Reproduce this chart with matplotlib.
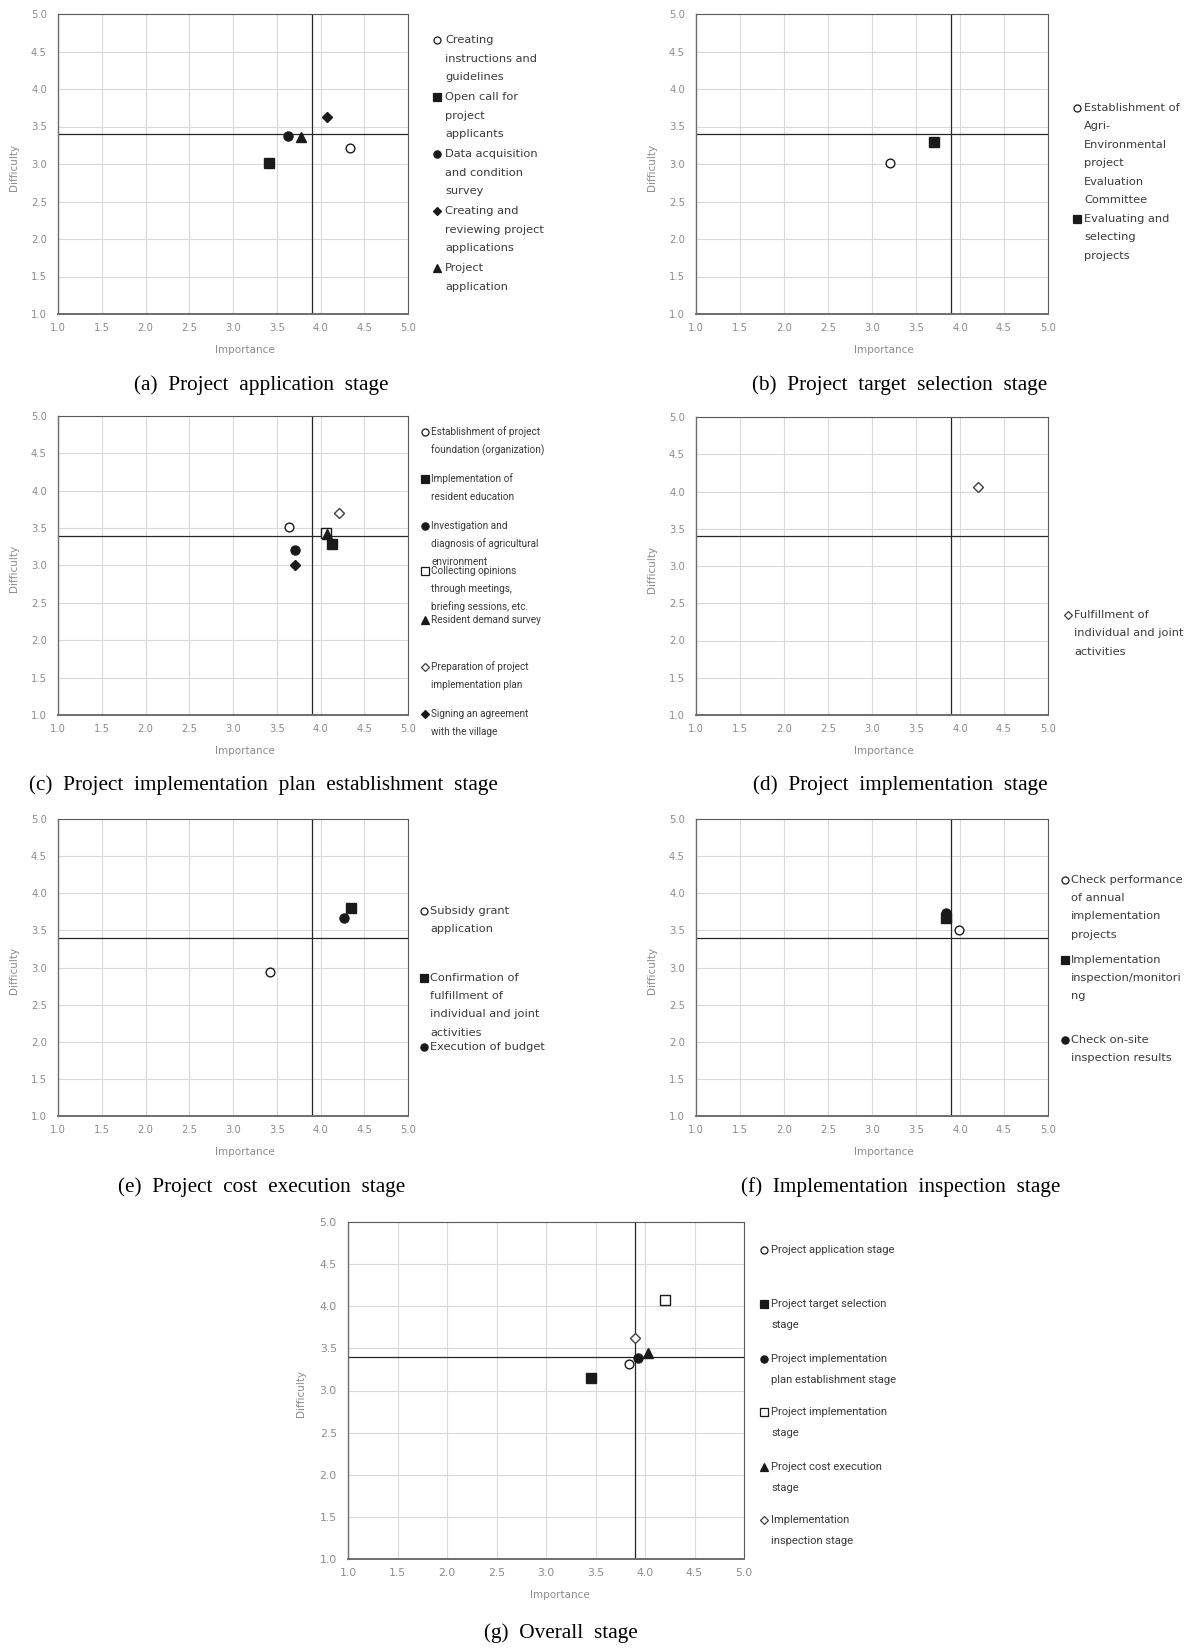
import matplotlib
matplotlib.use("Agg")
import matplotlib.pyplot as plt
from matplotlib.lines import Line2D

# ---------------- data ----------------
MEAN_IMPORTANCE = 3.90
MEAN_DIFFICULTY = 3.40

a_labels = ["Creating\ninstructions and\nguidelines",
            "Open call for\nproject\napplicants",
            "Data acquisition\nand condition\nsurvey",
            "Creating and\nreviewing project\napplications",
            "Project\napplication"]
a_importance = [4.34, 3.41, 3.63, 4.07, 3.78]
a_difficulty = [3.21, 3.01, 3.37, 3.63, 3.36]

b_labels = ["Establishment of\nAgri-\nEnvironmental\nproject\nEvaluation\nCommittee",
            "Evaluating and\nselecting\nprojects"]
b_importance = [3.20, 3.71]
b_difficulty = [3.01, 3.29]

c_labels = ["Establishment of project\nfoundation (organization)",
            "Implementation of\nresident education",
            "Investigation and\ndiagnosis of agricultural\nenvironment",
            "Collecting opinions\nthrough meetings,\nbriefing sessions, etc.",
            "Resident demand survey",
            "Preparation of project\nimplementation plan",
            "Signing an agreement\nwith the village"]
c_importance = [3.64, 4.13, 3.71, 4.06, 4.07, 4.21, 3.71]
c_difficulty = [3.51, 3.29, 3.21, 3.43, 3.42, 3.70, 3.00]

d_labels = ["Fulfillment of\nindividual and joint\nactivities"]
d_importance = [4.21]
d_difficulty = [4.06]

e_labels = ["Subsidy grant\napplication",
            "Confirmation of\nfulfillment of\nindividual and joint\nactivities",
            "Execution of budget"]
e_importance = [3.42, 4.35, 4.27]
e_difficulty = [2.94, 3.80, 3.66]

f_labels = ["Check performance\nof annual\nimplementation\nprojects",
            "Implementation\ninspection/monitori\nng",
            "Check on-site\ninspection results"]
f_importance = [3.99, 3.84, 3.84]
f_difficulty = [3.51, 3.67, 3.73]

g_labels = ["Project application stage",
            "Project target selection\nstage",
            "Project implementation\nplan establishment stage",
            "Project implementation\nstage",
            "Project cost execution\nstage",
            "Implementation\ninspection stage"]
g_importance = [3.84, 3.45, 3.93, 4.20, 4.03, 3.90]
g_difficulty = [3.32, 3.15, 3.38, 4.08, 3.45, 3.62]

tick_values = [1.0, 1.5, 2.0, 2.5, 3.0, 3.5, 4.0, 4.5, 5.0]
tick_labels = ["1.0", "1.5", "2.0", "2.5", "3.0", "3.5", "4.0", "4.5", "5.0"]

captions = ["(a)  Project  application  stage",
            "(b)  Project  target  selection  stage",
            "(c)  Project  implementation  plan  establishment  stage",
            "(d)  Project  implementation  stage",
            "(e)  Project  cost  execution  stage",
            "(f)  Implementation  inspection  stage",
            "(g)  Overall  stage"]

# ---------------- styles ----------------
DARK = "#1a1a1a"
STY = {
    "oc": dict(marker="o", mfc="white", mec=DARK),
    "fs": dict(marker="s", mfc=DARK, mec=DARK),
    "fc": dict(marker="o", mfc=DARK, mec=DARK),
    "fd": dict(marker="D", mfc=DARK, mec=DARK),
    "ft": dict(marker="^", mfc=DARK, mec=DARK),
    "os": dict(marker="s", mfc="white", mec=DARK),
    "od": dict(marker="D", mfc="white", mec="#404040"),
}
MSIZE = {"oc": 6.3, "fs": 6.8, "fc": 6.5, "fd": 5.0, "ft": 6.5, "os": 6.8, "od": 5.0}

W, H = 1190, 1648
fig = plt.figure(figsize=(W / 100, H / 100), dpi=100)


def add_panel(box, imp, dif, labels, styles, leg, caption, cap_xy,
              tick_fs=7.2, xl_off=12, yl_off=44):
    l, t, r, b = box
    ax = fig.add_axes([l / W, 1 - b / H, (r - l) / W, (b - t) / H])
    ax.set_xlim(1, 5)
    ax.set_ylim(1, 5)
    ax.set_xticks(tick_values)
    ax.set_yticks(tick_values)
    ax.set_xticklabels(tick_labels)
    ax.set_yticklabels(tick_labels)
    ax.tick_params(length=0, labelsize=tick_fs, labelcolor="#8c8c8c")
    ax.tick_params(axis="x", pad=6.5)
    ax.tick_params(axis="y", pad=8)
    ax.grid(True, color="#d9d9d9", lw=0.8)
    ax.set_axisbelow(True)
    for s in ax.spines.values():
        s.set_color("#595959")
        s.set_linewidth(0.8)
    ax.spines["bottom"].set_color("#6e6e6e")
    ax.spines["bottom"].set_linewidth(1.4)
    ax.spines["left"].set_color("#6e6e6e")
    ax.spines["left"].set_linewidth(1.0)
    ax.axvline(MEAN_IMPORTANCE, color="#262626", lw=0.9, zorder=2)
    ax.axhline(MEAN_DIFFICULTY, color="#262626", lw=0.9, zorder=2)
    for x, y, st in zip(imp, dif, styles):
        ax.plot([x], [y], ls="none", ms=MSIZE[st], mew=1.0, zorder=3, **STY[st])
    wpx, hpx = r - l, b - t
    ax.set_xlabel("Importance", fontsize=7.5, color="#8c8c8c")
    ax.set_ylabel("Difficulty", fontsize=7.5, color="#8c8c8c")
    ax.xaxis.set_label_coords(0.5 + xl_off / wpx, -36 / hpx)
    ax.yaxis.set_label_coords(-yl_off / wpx, 0.49)
    ax.xaxis.label.set_va("center")
    ax.yaxis.label.set_va("center")

    # legend
    xm, xt, ys, ls, fs, fam = leg
    for lab, st, y0 in zip(labels, styles, ys):
        ms = MSIZE[st] * 0.8
        fig.add_artist(Line2D([xm / W], [1 - y0 / H], transform=fig.transFigure,
                              ls="none", ms=ms, mew=0.9, **STY[st]))
        for k, line in enumerate(lab.split("\n")):
            fig.text(xt / W, 1 - (y0 + k * ls) / H, line, fontsize=fs,
                     family=fam, color="#3a3a3a", ha="left", va="center")
    fig.text(cap_xy[0] / W, 1 - cap_xy[1] / H, caption, fontsize=15.3,
             family="Liberation Serif", color="black", ha="center", va="center")
    return ax


WIDE = "DejaVu Sans"
NARROW = "Roboto"

add_panel((58, 14, 408, 314), a_importance, a_difficulty, a_labels,
          ["oc", "fs", "fc", "fd", "ft"],
          (437, 445, [40, 97, 154, 211, 268], 18.7, 8.2, WIDE),
          captions[0], (261, 385))

add_panel((696, 14, 1048, 314), b_importance, b_difficulty, b_labels,
          ["oc", "fs"],
          (1077, 1084, [108, 219], 18.4, 8.2, WIDE),
          captions[1], (900, 385))

add_panel((58, 416, 408, 715), c_importance, c_difficulty, c_labels,
          ["oc", "fs", "fc", "os", "ft", "od", "fd"],
          (425, 431, [432, 479, 526, 571, 620, 667, 714], 18.0, 7.2, NARROW),
          captions[2], (263, 785))

add_panel((696, 417, 1048, 715), d_importance, d_difficulty, d_labels,
          ["od"],
          (1068, 1074, [615], 18.4, 8.2, WIDE),
          captions[3], (900, 785))

add_panel((58, 819, 408, 1116), e_importance, e_difficulty, e_labels,
          ["oc", "fs", "fc"],
          (424, 430, [911, 978, 1047], 18.2, 8.2, WIDE),
          captions[4], (262, 1187))

add_panel((696, 819, 1048, 1116), f_importance, f_difficulty, f_labels,
          ["oc", "fs", "fc"],
          (1065, 1071, [880, 960, 1040], 18.2, 8.2, WIDE),
          captions[5], (901, 1187))

add_panel((348, 1222, 744, 1559), g_importance, g_difficulty, g_labels,
          ["oc", "fs", "fc", "os", "ft", "od"],
          (764, 771, [1250, 1304, 1359, 1412, 1467, 1520], 20.7, 8.1, NARROW),
          captions[6], (561, 1633), tick_fs=7.8, xl_off=14, yl_off=47)

fig.savefig("out.png", dpi=100, facecolor="white")
